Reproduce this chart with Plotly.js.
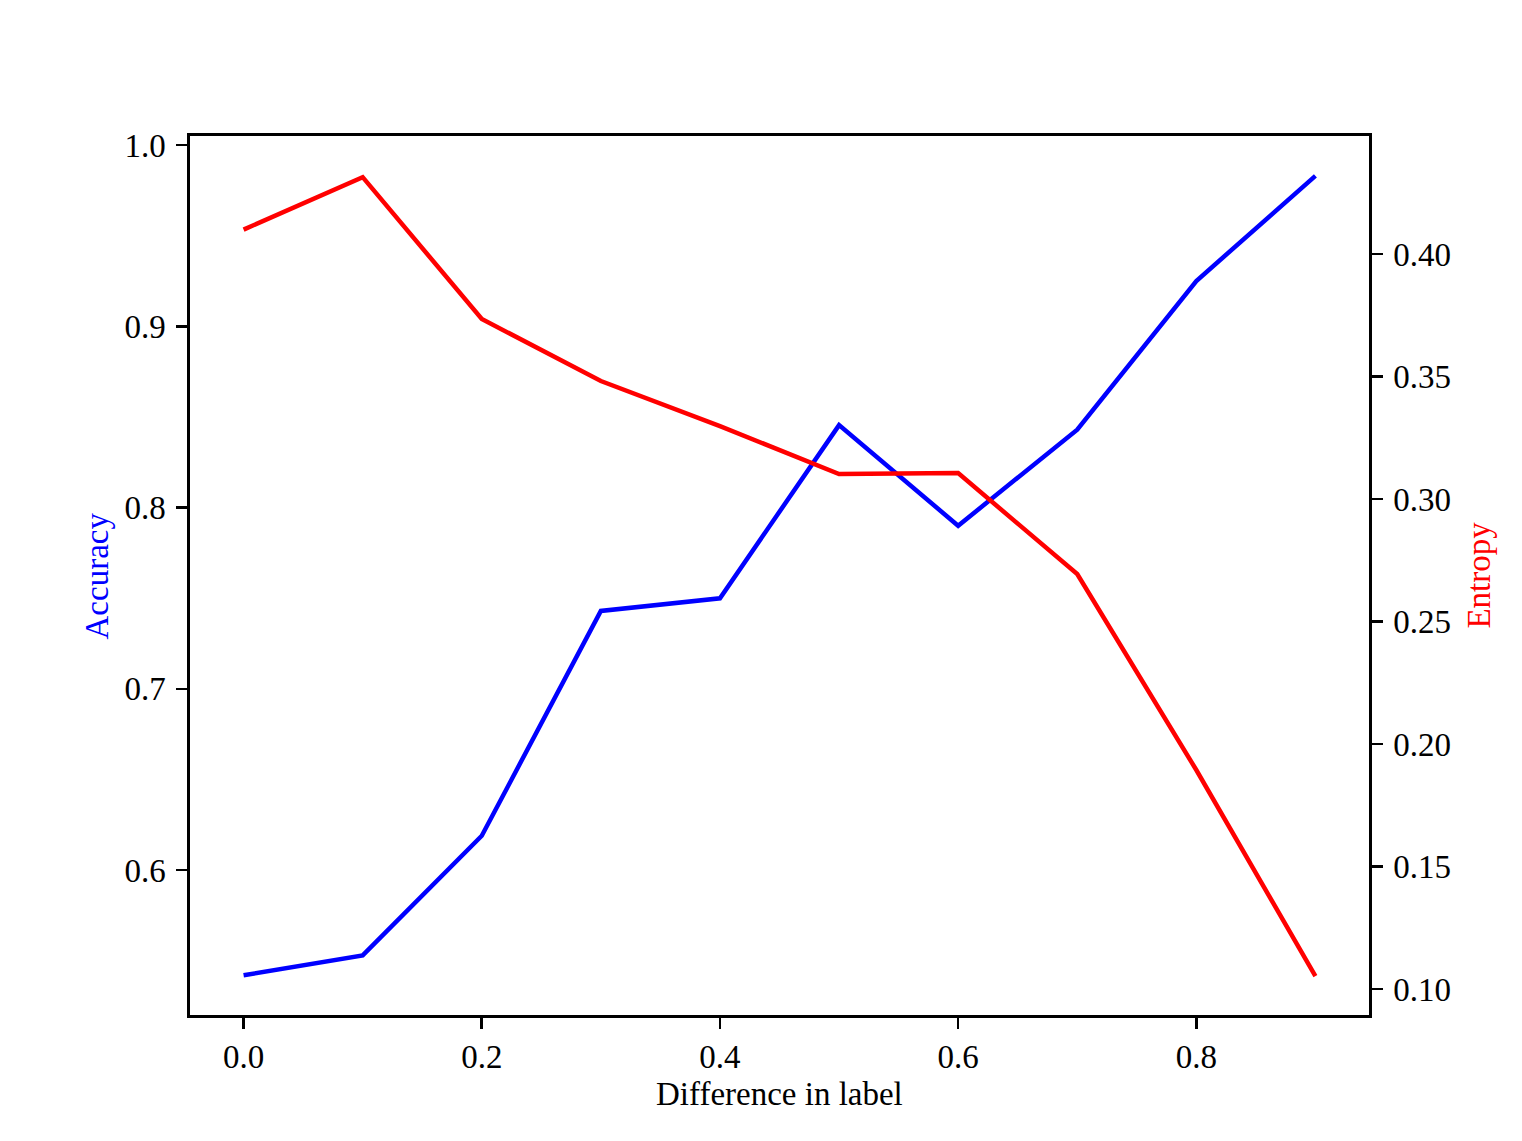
<!DOCTYPE html>
<html>
<head>
<meta charset="utf-8">
<script src="https://cdn.plot.ly/plotly-3.0.1.min.js"></script>
<style>html,body{margin:0;padding:0;background:#fff;}</style>
</head>
<body>
<div id="chart" style="width:1522px;height:1141px;"></div>
<script>
const diffLabel = [0.0, 0.1, 0.2, 0.3, 0.4, 0.5, 0.6, 0.7, 0.8, 0.9];
const accuracy = [0.542, 0.553, 0.619, 0.743, 0.750, 0.8455, 0.790, 0.843, 0.925, 0.983];
const entropy = [0.410, 0.4314, 0.3735, 0.3482, 0.3298, 0.3102, 0.3106, 0.2694, 0.1894, 0.1053];

const FONT = "Liberation Serif, Times New Roman, serif";
const FS = 33;

const traces = [
  {x: diffLabel, y: accuracy, type: 'scatter', mode: 'lines', name: 'Accuracy',
   line: {color: '#0000ff', width: 4.5}, xaxis: 'x', yaxis: 'y'},
  {x: diffLabel, y: entropy, type: 'scatter', mode: 'lines', name: 'Entropy',
   line: {color: '#ff0000', width: 4.5}, xaxis: 'x', yaxis: 'y2'}
];

const axisCommon = {
  showgrid: false, zeroline: false, showline: true, linecolor: '#000', linewidth: 2.6,
  ticks: 'outside', ticklen: 11, tickwidth: 2.6, tickcolor: '#000',
  tickfont: {family: FONT, size: FS, color: '#000'}, automargin: false
};

const layout = {
  width: 1522, height: 1141, autosize: false,
  paper_bgcolor: '#fff', plot_bgcolor: '#fff',
  margin: {l: 190, r: 153, t: 136, b: 126, pad: 0},
  showlegend: false,
  font: {family: FONT, size: FS, color: '#000'},
  xaxis: Object.assign({}, axisCommon, {
    range: [-0.045, 0.945], tick0: 0, dtick: 0.2, tickformat: '.1f', mirror: true
  }),
  yaxis: Object.assign({}, axisCommon, {
    range: [0.5201, 1.005], tick0: 0.6, dtick: 0.1, tickformat: '.1f', ticklabelstandoff: 4
  }),
  yaxis2: Object.assign({}, axisCommon, {
    range: [0.0894, 0.4482], tick0: 0.1, dtick: 0.05, tickformat: '.2f',
    overlaying: 'y', side: 'right', ticklabelstandoff: 4
  }),
  annotations: [
    {text: 'Difference in label', xref: 'paper', yref: 'paper', x: 0.5, y: -0.0899,
     xanchor: 'center', yanchor: 'middle', showarrow: false,
     font: {family: FONT, size: FS, color: '#000'}},
    {text: 'Accuracy', xref: 'paper', yref: 'paper', x: -0.0789, y: 0.5,
     xanchor: 'center', yanchor: 'middle', textangle: -90, showarrow: false,
     font: {family: FONT, size: FS, color: '#0000ff'}},
    {text: 'Entropy', xref: 'paper', yref: 'paper', x: 1.0925, y: 0.5,
     xanchor: 'center', yanchor: 'middle', textangle: -90, showarrow: false,
     font: {family: FONT, size: FS, color: '#ff0000'}}
  ]
};

Plotly.newPlot('chart', traces, layout, {displayModeBar: false, staticPlot: true});
</script>
</body>
</html>
